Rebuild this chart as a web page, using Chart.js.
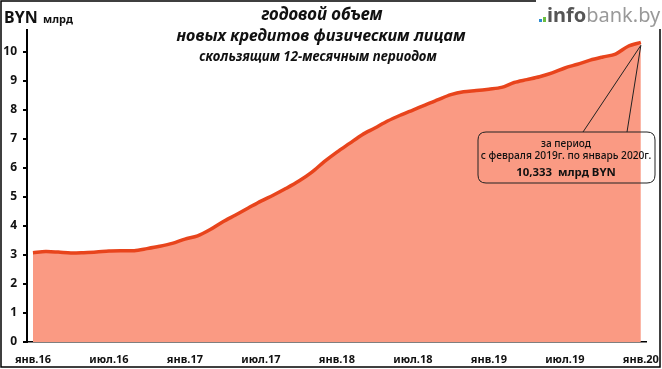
<!DOCTYPE html>
<html><head><meta charset="utf-8">
<script src="https://cdn.jsdelivr.net/npm/chart.js@4.4.1/dist/chart.umd.min.js"></script>
<style>html,body{margin:0;padding:0;background:#fff}#wrap{width:662px;height:369px;position:relative}</style>
</head><body><div id="wrap"><canvas id="c" width="662" height="369"></canvas></div>
<script>
const months = ['янв','фев','мар','апр','май','июн','июл','авг','сен','окт','ноя','дек'];
const years = [16,17,18,19,20];
const categories = [];
for (const y of years) for (let m = 0; m < 12; m++) { if (y === 20 && m > 0) break; categories.push(months[m] + '.' + y); }
const values = [
 3.08,3.12,3.10,3.07,3.08,3.10,3.14,3.15,3.15,3.22,3.30,3.40,
 3.55,3.66,3.88,4.15,4.38,4.62,4.86,5.07,5.30,5.55,5.85,6.22,
 6.55,6.85,7.15,7.38,7.62,7.82,8.00,8.18,8.36,8.53,8.63,8.67,
 8.72,8.78,8.95,9.05,9.15,9.28,9.45,9.58,9.72,9.83,9.93,10.20,
 10.333
];
const tickLabels = ['янв.16','июл.16','янв.17','июл.17','янв.18','июл.18','янв.19','июл.19','янв.20'];
const yTicks = [0,1,2,3,4,5,6,7,8,9,10];
const titleLines = ['годовой объем','новых кредитов физическим лицам','скользящим 12-месячным периодом'];
const noteLines = ['за период','с февраля 2019г. по январь 2020г.','10,333  млрд BYN'];

const F = '"Noto Sans", "Open Sans", sans-serif';
const data = values.map((v,i)=>({x:i,y:v}));

const overlay = {
  id:'overlay',
  afterDraw(chart){
    const c = chart.ctx;
    c.save();
    c.strokeStyle='#000'; c.lineWidth=1.5;
    c.strokeRect(1,1,659,366);
    c.fillStyle='#fff'; c.fillRect(536,0,126,29);
    c.fillStyle='#111'; c.textAlign='center'; c.textBaseline='alphabetic';
    const fit=(txt,size,style,w)=>{c.font=style+' '+size+'px '+F; const m=c.measureText(txt).width; return size*w/m;};
    const put=(txt,style,w,x,y)=>{const s=fit(txt,12,style,w); c.font=style+' '+s.toFixed(1)+'px '+F; c.fillText(txt,x,y);};
    put(titleLines[0],'italic bold',121,322,20);
    put(titleLines[1],'italic bold',290,321,41);
    put(titleLines[2],'italic bold',237,318,61);
    c.textAlign='left';
    c.font='bold 16px '+F; c.fillText('BYN',4,23);
    c.font='bold 11px '+F; c.fillText('млрд',43,23);
    c.fillStyle='#2e8bd1'; c.fillRect(539,19,3,3);
    c.fillStyle='#6cbf3f'; c.fillRect(543,17,3,5);
    c.font='bold 20px '+F; c.fillStyle='#555';
    c.fillText('info',547,22);
    const w=c.measureText('info').width;
    c.font='20px '+F; c.fillStyle='#999';
    c.fillText('bank.by',547+w,22);
    const xs=chart.scales.x, ys=chart.scales.y;
    const px=xs.getPixelForValue(48), py=ys.getPixelForValue(values[48]);
    c.strokeStyle='#222'; c.lineWidth=1;
    c.beginPath(); c.moveTo(px,py+3); c.lineTo(583,132); c.moveTo(px,py+3); c.lineTo(627,132); c.stroke();
    const bx=478,by=132,bw=177,bh=51,r=8;
    c.beginPath();
    c.moveTo(bx+r,by); c.lineTo(bx+bw-r,by); c.quadraticCurveTo(bx+bw,by,bx+bw,by+r);
    c.lineTo(bx+bw,by+bh-r); c.quadraticCurveTo(bx+bw,by+bh,bx+bw-r,by+bh);
    c.lineTo(bx+r,by+bh); c.quadraticCurveTo(bx,by+bh,bx,by+bh-r);
    c.lineTo(bx,by+r); c.quadraticCurveTo(bx,by,bx+r,by); c.closePath(); c.stroke();
    c.fillStyle='#111'; c.textAlign='center';
    put(noteLines[0],'500',50,566,147);
    put(noteLines[1],'500',170,566,159);
    put(noteLines[2],'bold',100,566,176);
    c.restore();
  }
};

new Chart(document.getElementById('c'),{
  type:'line',
  data:{labels:categories, datasets:[{data, borderColor:'#E8441C', backgroundColor:'#FA9A83', borderWidth:3.5, fill:'origin', tension:0.3, pointRadius:0}]},
  options:{
    responsive:false, animation:false, devicePixelRatio:1,
    layout:{padding:{left:0,top:30,right:11,bottom:0}},
    plugins:{legend:{display:false},tooltip:{enabled:false}},
    scales:{
      x:{type:'linear', min:-0.47, max:48.47,
        afterBuildTicks:s=>{s.ticks=tickLabels.map((t,i)=>({value:i*6}));},
        afterFit:s=>{s.height=27;},
        ticks:{callback:(v)=>tickLabels[Math.round(v/6)], color:'#111', font:{family:F,size:11,weight:'bold'}, maxRotation:0, autoSkip:false, padding:3},
        grid:{display:false}, border:{display:true,color:'#000',width:1.5}},
      y:{min:0, max:10.76,
        afterBuildTicks:s=>{s.ticks=yTicks.map(v=>({value:v}));},
        afterFit:s=>{s.width=27;},
        ticks:{color:'#111', font:{family:F,size:12,weight:'bold'}, padding:6},
        grid:{drawOnChartArea:false, drawTicks:true, tickLength:4, color:'#000', lineWidth:2},
        border:{display:true,color:'#000',width:2}}
    }
  },
  plugins:[overlay]
});
</script></body></html>
